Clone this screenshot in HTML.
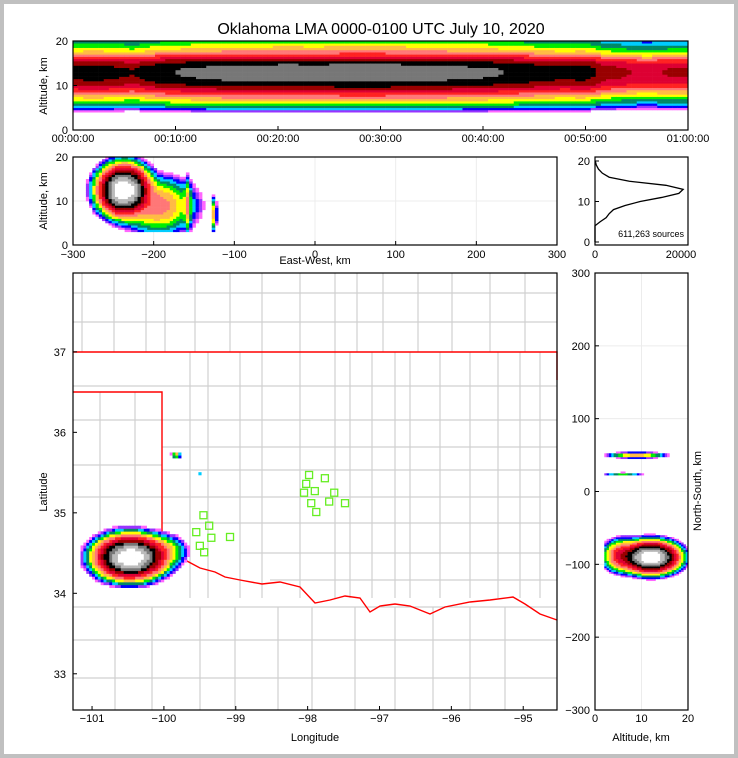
<!DOCTYPE html>
<html><head><meta charset="utf-8"><style>
html,body{margin:0;padding:0;background:#c0c0c0}
svg{display:block;font-family:"Liberation Sans",sans-serif}
</style></head><body>
<svg id="chart" width="738" height="758" viewBox="0 0 738 758">
<rect x="4" y="4" width="730" height="750" fill="#fff"/>
<text x="381" y="34" font-size="16" text-anchor="middle">Oklahoma LMA 0000-0100 UTC July 10, 2020</text>
<g id="top"></g>
<g id="ew"></g>
<g id="hist"></g>
<g id="map"></g>
<g id="ns"></g>
</svg>
<script>
// ---- data ----
const levelColors=['#ff66ff','#9933ff','#0000ff','#00ccff','#008866','#00ee00','#ffff00','#ffbb44','#ff7777','#ff2222','#dd0033','#990000','#000000','#777777','#bbbbbb','#ffffff'];
const profAlt=[0,1,2,3,4,5,6,7,8,9,10,11,12,13,14,15,16,17,18,19,20];
const profVal=[0,0,0,0,0.002,0.015,0.04,0.08,0.15,0.3,0.55,0.8,0.95,1,0.95,0.7,0.35,0.15,0.08,0.05,0.03];
const actMin=[0,2,4,6,8,10,12,14,16,18,20,22,24,26,28,30,32,34,36,38,40,42,44,46,48,50,52,54,56,58,60];
const actVal=[0.2,0.22,0.2,0.18,0.24,0.28,0.3,0.32,0.34,0.35,0.36,0.36,0.35,0.37,0.37,0.37,0.36,0.35,0.33,0.31,0.3,0.28,0.25,0.22,0.2,0.22,0.14,0.12,0.1,0.12,0.12];
const histAlt=[0,1,2,3,4,5,6,7,8,9,10,11,12,13,14,15,16,17,18,19,20];
const histCount=[0,0,0,0,0,1200,2600,3300,4300,7000,10500,15500,19500,20500,16500,8000,3300,1700,800,300,60];
const ewBlobX=[-237,-195,-158,-125];
const ewBlobAlt=[12.5,9,9,7];
const ewBlobSx=[18,30,3,2];
const ewBlobSy=[3.2,4,4,2.5];
const ewBlobPeak=[1,0.04,0.03,0.03];
const mapBlobLon=[-100.47,-100.05,-99.83,-99.47];
const mapBlobLat=[34.45,34.52,35.72,35.48];
const mapBlobSx=[0.27,0.22,0.04,0.03];
const mapBlobSy=[0.15,0.13,0.025,0.012];
const mapBlobPeak=[1,0.03,0.03,0.02];
const nsBlobAlt=[12,6,9,6];
const nsBlobNs=[-90,-88,50,24];
const nsBlobSx=[3.4,2.5,4,3];
const nsBlobSy=[12,13,2.5,1.5];
const nsBlobPeak=[1,0.1,0.03,0.01];
const stationLon=[-97.98,-97.76,-98.02,-98.05,-97.90,-97.63,-97.95,-97.70,-97.48,-97.88,-99.45,-99.37,-99.55,-99.34,-99.50,-99.44,-99.08];
const stationLat=[35.47,35.43,35.36,35.25,35.27,35.25,35.12,35.14,35.12,35.01,34.97,34.84,34.76,34.69,34.59,34.51,34.70];
const timeTicks=['00:00:00','00:10:00','00:20:00','00:30:00','00:40:00','00:50:00','01:00:00'];
const lonTicks=[-101,-100,-99,-98,-97,-96,-95];
const latTicks=[37,36,35,34,33];
const ewTicks=[-300,-200,-100,0,100,200,300];
const nsTicks=[300,200,100,0,-100,-200,-300];
// ---- helpers ----
const NS='http://www.w3.org/2000/svg';
function mk(p,t,a){const e=document.createElementNS(NS,t);for(const k in a)e.setAttribute(k,a[k]);p.appendChild(e);return e;}
function lin(d0,d1,r0,r1){return v=>r0+(v-d0)/(d1-d0)*(r1-r0);}
function interp(xs,ys,x){if(x<=xs[0])return ys[0];for(let i=1;i<xs.length;i++){if(x<=xs[i]){const t=(x-xs[i-1])/(xs[i]-xs[i-1]);return ys[i-1]+t*(ys[i]-ys[i-1]);}}return ys[ys.length-1];}
function lvl(d){if(d<0.001)return -1;let i=Math.floor((Math.log10(d)+3)/3*16);return Math.max(0,Math.min(15,i));}
function txt(p,x,y,s,o){const e=mk(p,'text',Object.assign({x:x,y:y,'font-size':11},o||{}));e.textContent=s;return e;}
function cell(g,x,y,w,h,c){const r=mk(g,'rect',{x:x,y:y,width:w+0.3,height:h+0.3,fill:c});

}
function blobHeat(g,X,Y,SX,SY,P,xs,ys,x0,x1,dx,y0,y1,dy){
 for(let x=x0;x<x1;x+=dx)for(let y=y0;y<y1;y+=dy){let d=0;const cx=x+dx/2,cy=y+dy/2;
  for(let i=0;i<X.length;i++){const a=(cx-X[i])/SX[i],b=(cy-Y[i])/SY[i];d+=P[i]*Math.exp(-(a*a+b*b));}
  const l=lvl(d);if(l<0)continue;const px=Math.min(xs(x),xs(x+dx)),py=Math.min(ys(y),ys(y+dy));
  cell(g,px,py,Math.abs(xs(x+dx)-xs(x)),Math.abs(ys(y+dy)-ys(y)),levelColors[l]);}}
function frame(g,x,y,w,h,name){const r=mk(g,'rect',{x:x,y:y,width:w,height:h,fill:'none',stroke:'#000','stroke-width':1.2});}
// ---- top panel ----
(function(){const g=document.getElementById('top');const X=lin(0,60,73,688),Y=lin(0,20,130,41);
 for(let t=0;t<60;t+=0.5)for(let a=0;a<20;a+=0.5){const d=interp(actMin,actVal,t+0.25)*interp(profAlt,profVal,a+0.25);const l=lvl(d);if(l<0)continue;
  cell(g,X(t),Y(a+0.5),X(t+0.5)-X(t),Y(a)-Y(a+0.5),levelColors[l]);}
 frame(g,73,41,615,89,'top-axes-frame');
 timeTicks.forEach((s,i)=>{const x=X(i*10);mk(g,'line',{x1:x,x2:x,y1:130,y2:126,stroke:'#000'});txt(g,x,142,s,{'text-anchor':'middle'});});
 [0,10,20].forEach(v=>{txt(g,68,Y(v)+4,String(v),{'text-anchor':'end'});mk(g,'line',{x1:73,x2:77,y1:Y(v),y2:Y(v),stroke:'#000'});});
 txt(g,0,0,'Altitude, km',{transform:'translate(47,86) rotate(-90)','text-anchor':'middle'});
})();
// ---- EW panel ----
(function(){const g=document.getElementById('ew');const X=lin(-300,300,73,557),Y=lin(0,20,245,157);
 ewTicks.forEach(v=>mk(g,'line',{x1:X(v),x2:X(v),y1:157,y2:245,stroke:'#ececec'}));
 mk(g,'line',{x1:73,x2:557,y1:Y(10),y2:Y(10),stroke:'#ececec'});
 blobHeat(g,ewBlobX,ewBlobAlt,ewBlobSx,ewBlobSy,ewBlobPeak,X,Y,-300,-110,4,3,20,0.5);
 frame(g,73,157,484,88,'ew-axes-frame');
 ewTicks.forEach(v=>{txt(g,X(v),258,String(v).replace('-','\u2212'),{'text-anchor':'middle'});mk(g,'line',{x1:X(v),x2:X(v),y1:245,y2:241,stroke:'#000'});});
 [0,10,20].forEach(v=>txt(g,68,Y(v)+4,String(v),{'text-anchor':'end'}));
 txt(g,315,264,'East-West, km',{'text-anchor':'middle'});
 txt(g,0,0,'Altitude, km',{transform:'translate(47,201) rotate(-90)','text-anchor':'middle'});
})();
// ---- histogram ----
(function(){const g=document.getElementById('hist');const X=lin(0,20000,595,681),Y=lin(0,20,242,161);
 const pts=histAlt.map((a,i)=>X(histCount[i])+','+Y(a)).join(' ');
 const p=mk(g,'polyline',{points:pts,fill:'none',stroke:'#000','stroke-width':1.3});
 frame(g,595,157,93,88,'hist-axes-frame');
 [0,10,20].forEach(v=>{txt(g,590,Y(v)+4,String(v),{'text-anchor':'end'});mk(g,'line',{x1:595,x2:599,y1:Y(v),y2:Y(v),stroke:'#000'});});
 [0,20000].forEach(v=>txt(g,X(v),258,String(v),{'text-anchor':'middle'}));
 txt(g,684,237,'611,263 sources',{'text-anchor':'end','font-size':9});
})();
// ---- map ----
(function(){const g=document.getElementById('map');const X=lin(-101.265,-94.53,73,557),Y=lin(37.98,32.55,273,710);
 const cg=mk(g,'g',{stroke:'#d0d0d0','stroke-width':1.2,fill:'none'});
 const segs=[[73,293,557,293],[73,322,557,322],[73,386,557,386],[73,420,557,420],[162,447,557,447],[73,465,162,465],[162,470,557,470],[73,497,557,497],[162,523,557,523],[240,553,557,553],[73,607,557,607],[73,640,557,640],[73,678,557,678],[270,580,557,580]];
 [82,114,146,165,195,230,262,300,335,357,383,418,452,490,525].forEach(x=>segs.push([x,273,x,352]));
 [100,135].forEach(x=>segs.push([x,392,x,560]));
 [190,208,240,262,300,335,350,372,395,410,440,470,498,520,540].forEach(x=>segs.push([x,352,x,598]));
 [115,152,200,235,278,312,355,395,433,470,505].forEach(x=>segs.push([x,607,x,710]));
 segs.forEach(s=>mk(cg,'line',{x1:s[0],y1:s[1],x2:s[2],y2:s[3]}));
 const sg=mk(g,'g',{stroke:'#ff0000','stroke-width':1.4,fill:'none'});
 mk(sg,'polyline',{points:'73,352 557,352 557,380'});
 mk(sg,'polyline',{points:'73,392 162,392 162,560 185,560 200,568 215,572 225,577 240,580 262,584 280,582 300,587 315,603 330,600 345,596 360,598 370,612 380,606 395,604 410,606 430,614 445,607 470,602 490,600 513,597 525,604 540,614 557,620'});
 blobHeat(g,mapBlobLon,mapBlobLat,mapBlobSx,mapBlobSy,mapBlobPeak,X,Y,-101.2,-99.5,0.04,34.0,35.8,0.035);
 stationLon.forEach((lo,i)=>{const r=mk(g,'rect',{x:X(lo)-3.5,y:Y(stationLat[i])-3.5,width:7,height:7,fill:'none',stroke:'#66ee22','stroke-width':1.3});
  });
 frame(g,73,273,484,437,'map-axes-frame');
 lonTicks.forEach(v=>{txt(g,X(v),722,String(v).replace('-','\u2212'),{'text-anchor':'middle'});mk(g,'line',{x1:X(v),x2:X(v),y1:710,y2:706,stroke:'#000'});});
 latTicks.forEach(v=>{txt(g,66,Y(v)+4,String(v),{'text-anchor':'end'});mk(g,'line',{x1:73,x2:77,y1:Y(v),y2:Y(v),stroke:'#000'});});
 txt(g,315,741,'Longitude',{'text-anchor':'middle'});
 txt(g,0,0,'Latitude',{transform:'translate(47,492) rotate(-90)','text-anchor':'middle'});
})();
// ---- NS panel ----
(function(){const g=document.getElementById('ns');const X=lin(0,20,595,688),Y=lin(-300,300,710,273);
 [0,10,20].forEach(v=>mk(g,'line',{x1:X(v),x2:X(v),y1:273,y2:710,stroke:'#ececec'}));
 nsTicks.forEach(v=>mk(g,'line',{x1:595,x2:688,y1:Y(v),y2:Y(v),stroke:'#ececec'}));
 blobHeat(g,nsBlobAlt,nsBlobNs,nsBlobSx,nsBlobSy,nsBlobPeak,X,Y,2,20,0.5,-140,60,2.5);
 frame(g,595,273,93,437,'ns-axes-frame');
 nsTicks.forEach(v=>{txt(g,590,Y(v)+4,String(v).replace('-','\u2212'),{'text-anchor':'end'});mk(g,'line',{x1:595,x2:599,y1:Y(v),y2:Y(v),stroke:'#000'});});
 [0,10,20].forEach(v=>txt(g,X(v),722,String(v),{'text-anchor':'middle'}));
 txt(g,641,741,'Altitude, km',{'text-anchor':'middle'});
 txt(g,0,0,'North-South, km',{transform:'translate(701,491) rotate(-90)','text-anchor':'middle'});
})();
</script>
</body></html>
